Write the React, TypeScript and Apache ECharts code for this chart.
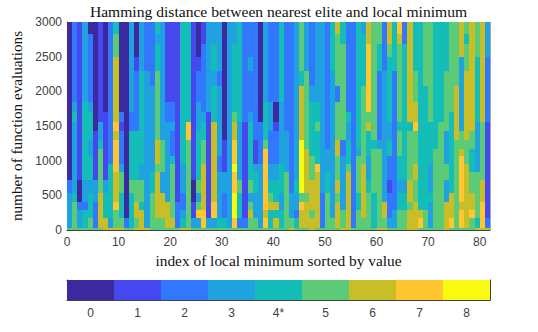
import React, { useEffect, useRef } from "react";
import * as echarts from "echarts";

// Colour level names on the colour bar
const levelLabels = ["0", "1", "2", "3", "4*", "5", "6", "7", "8"];
const levelColors = ["#3a2a9e", "#4547ef", "#3278ff", "#20a2e0", "#14bdb8", "#5ccb78", "#c8bf28", "#ffc630", "#f8fa10"];

// Row boundaries (function evaluations), top to bottom
const rowEdges = [3000, 2821, 2676, 2492, 2289, 2071, 1853, 1698, 1563, 1427, 1297, 1166, 1065, 948, 832, 716, 532, 411, 295, 174, 29, 0];

// Each column read top to bottom, "value:run" in rows
const columnRuns = [
  "0:15 2:1 3:4", "2:6 3:1 4:1 3:8 4:1 5:3", "1:15 0:2 2:1 3:2", "3:6 4:9 3:2 2:1 4:2",
  "0:1 2:5 3:1 4:3 3:2 4:3 3:1 4:3 5:1", "0:9 1:6 3:2 2:3", "1:8 3:2 4:1 5:5 6:4", "0:7 1:8 3:1 4:3 6:1",
  "2:13 4:6 3:1", "4:1 5:2 6:5 7:1 6:1 7:4 6:3 7:1 5:2", "0:7 2:1 1:1 2:4 3:1 5:2 4:3 5:1", "0:19 2:1",
  "3:7 2:2 4:6 5:1 4:4", "0:3 1:1 2:5 4:6 5:2 6:2 5:1", "3:4 4:9 3:2 5:2 4:1 6:2", "2:4 3:16",
  "2:5 3:9 4:2 5:4", "4:1 3:1 4:2 5:6 6:3 5:1 6:5 5:1", "3:10 5:4 3:2 6:3 5:1", "1:6 2:2 3:9 6:3",
  "1:6 2:2 3:1 2:3 4:1 5:6 6:1", "1:17 2:3", "4:13 3:3 2:2 3:1 4:1", "4:8 7:2 5:10",
  "1:15 0:2 1:2 3:1", "0:3 1:1 2:2 3:3 4:6 5:1 3:1 5:1 7:1 3:1", "1:2 2:5 3:1 4:2 5:3 6:5 7:2", "3:7 1:12 3:1",
  "3:2 4:2 3:1 4:3 6:9 7:2 3:1", "3:4 2:1 3:7 2:2 3:5 4:1", "0:10 1:4 3:2 2:3 4:1", "3:20",
  "3:2 4:5 5:1 6:2 7:3 8:1 7:2 8:3 7:1", "4:8 3:7 5:1 4:3 2:1", "2:8 1:11 2:1", "2:3 3:1 2:3 3:1 4:7 5:1 3:1 5:1 6:1 5:1",
  "2:10 1:3 3:1 4:2 3:3 5:1", "0:8 2:5 3:7", "3:6 4:4 5:1 7:7 6:1 7:1", "2:6 3:3 2:4 3:2 4:1 5:1 6:1 4:2",
  "2:6 0:2 1:1 2:4 3:2 4:2 6:1 4:1 6:1", "4:6 3:7 4:3 3:2 4:2", "2:9 3:5 5:6", "2:16 3:3 5:1",
  "3:15 4:1 3:2 2:1 4:1", "5:4 4:1 6:5 8:6 5:1 7:1 6:2", "3:4 5:7 6:5 5:1 6:3", "2:5 3:1 4:6 5:3 6:3 5:1 6:1",
  "3:6 4:2 5:1 4:4 7:1 6:6", "3:16 2:4", "2:11 3:3 4:2 5:4", "4:4 3:15 5:1",
  "6:1 5:4 2:1 5:4 6:2 5:3 6:1 5:1 6:3", "4:2 5:8 2:2 3:6 5:2", "2:7 4:1 3:2 4:3 5:1 6:6", "2:20",
  "4:11 3:1 5:4 4:2 5:2", "3:1 4:4 5:8 6:6 5:1", "6:2 7:5 5:1 6:1 4:3 3:3 4:1 5:4", "5:10 4:1 5:5 4:4",
  "5:2 4:2 2:6 3:1 5:9", "2:4 3:13 6:2 5:1", "6:2 5:1 4:5 3:2 4:2 2:3 1:1 2:3 3:1", "4:4 2:14 3:2",
  "7:1 6:1 5:6 4:1 5:3 4:3 3:1 4:2 5:2", "2:2 4:13 3:1 4:2 5:2", "6:8 4:1 5:6 6:2 5:1 6:2", "4:4 5:2 6:2 7:1 5:4 6:2 5:2 6:3",
  "4:18 6:1 7:1", "5:5 4:13 5:2", "5:8 4:5 3:3 4:1 3:3", "4:11 5:9",
  "4:8 5:12", "4:4 5:5 3:4 5:2 3:2 6:3", "5:7 4:9 6:3 7:1", "5:5 6:5 5:10",
  "6:3 3:6 5:2 6:1 7:5 6:1 7:2", "5:1 4:1 5:2 6:6 5:3 6:7", "6:9 5:2 4:3 5:2 6:2 7:1 5:1", "5:3 4:5 3:6 5:5 4:1",
  "6:8 5:7 6:2 7:3", "3:3 2:5 1:11 2:1",
];

// The thin lowest row, one value per column
const lowestRow = "5555555666655666555555665555555555555555555655565555566555556655556655555655555666";

const xTicks = { min: 0, max: 82, interval: 10 };
const yTicks = { min: 0, max: 3000, interval: 500 };

const cells: number[][] = [];
columnRuns.forEach((runs, col) => {
  let row = 0;
  runs.split(" ").forEach((run) => {
    const [v, n] = run.split(":").map(Number);
    for (let k = 0; k < n; k++) {
      cells.push([col, col + 1, rowEdges[row + 1], rowEdges[row], v]);
      row++;
    }
  });
  cells.push([col, col + 1, rowEdges[21], rowEdges[20], Number(lowestRow[col])]);
});

export default function App() {
  const ref = useRef<HTMLDivElement>(null);
  useEffect(() => {
    const chart = echarts.init(ref.current!, null, { renderer: "svg" });
    const sans = "Liberation Sans";
    const serif = "Liberation Serif";
    const dark = "#404040";
    const faint = "#a8a8a8";
    const left = 67, right = 48;
    chart.setOption({
      animation: false,
      backgroundColor: "#fff",
      title: {
        text: "Hamming distance between nearest elite and local minimum",
        left: 273.5, top: -2, textAlign: "center",
        textStyle: { fontFamily: serif, fontSize: 15.6, fontWeight: "normal", color: "#111" },
      },
      grid: [
        { left, right, top: 22, height: 208 },
        { left, right, top: 280, height: 20 },
      ],
      xAxis: [
        {
          type: "value", gridIndex: 0, position: "bottom", ...xTicks,
          name: "index of local minimum sorted by value", nameLocation: "middle", nameGap: 23,
          nameTextStyle: { fontFamily: serif, fontSize: 15.4, color: "#111" },
          axisLine: { show: true, onZero: false, lineStyle: { color: dark, width: 1 } },
          axisTick: { inside: true, length: 3, lineStyle: { color: dark } },
          axisLabel: { fontFamily: sans, fontSize: 12, color: dark, margin: 6 },
          splitLine: { show: false },
        },
        {
          type: "value", gridIndex: 0, position: "top", ...xTicks,
          axisLine: { show: true, onZero: false, lineStyle: { color: faint } },
          axisTick: { show: false }, axisLabel: { show: false }, splitLine: { show: false },
        },
        {
          type: "category", gridIndex: 1, position: "bottom", data: levelLabels,
          axisLine: { show: true, onZero: false, lineStyle: { color: dark } },
          axisTick: { show: true, inside: true, alignWithLabel: true, length: 4, lineStyle: { color: dark } },
          axisLabel: { fontFamily: sans, fontSize: 12, color: dark, margin: 7, interval: 0 },
        },
        {
          type: "category", gridIndex: 1, position: "top", data: levelLabels,
          axisLine: { show: true, onZero: false, lineStyle: { color: dark } },
          axisTick: { show: false }, axisLabel: { show: false },
        },
      ],
      yAxis: [
        {
          type: "value", gridIndex: 0, position: "left", ...yTicks,
          name: "number of function evaluations", nameLocation: "middle", nameGap: 38,
          nameTextStyle: { fontFamily: serif, fontSize: 15.2, color: "#111" },
          axisLine: { show: true, onZero: false, lineStyle: { color: faint } },
          axisTick: { inside: true, length: 3, lineStyle: { color: dark } },
          axisLabel: { fontFamily: sans, fontSize: 12, color: dark, margin: 5, formatter: (v: number) => String(v) },
          splitLine: { show: false },
        },
        {
          type: "value", gridIndex: 0, position: "right", ...yTicks,
          axisLine: { show: true, onZero: false, lineStyle: { color: faint } },
          axisTick: { show: false }, axisLabel: { show: false }, splitLine: { show: false },
        },
        {
          type: "value", gridIndex: 1, position: "left", min: 0, max: 1,
          axisLine: { show: true, onZero: false, lineStyle: { color: dark } },
          axisTick: { show: false }, axisLabel: { show: false }, splitLine: { show: false },
        },
        {
          type: "value", gridIndex: 1, position: "right", min: 0, max: 1,
          axisLine: { show: true, onZero: false, lineStyle: { color: dark } },
          axisTick: { show: false }, axisLabel: { show: false }, splitLine: { show: false },
        },
      ],
      series: [
        {
          type: "custom", xAxisIndex: 0, yAxisIndex: 0, silent: true, clip: true, z: 1,
          data: cells,
          renderItem: (_p: any, api: any) => {
            const a = api.coord([api.value(0), api.value(3)]);
            const b = api.coord([api.value(1), api.value(2)]);
            const x = Math.round(a[0]), y = Math.round(a[1]);
            return {
              type: "rect",
              shape: { x, y, width: Math.round(b[0]) - x, height: Math.round(b[1]) - y },
              style: { fill: levelColors[api.value(4)] },
            };
          },
        },
        {
          type: "bar", xAxisIndex: 2, yAxisIndex: 2, barWidth: "100%", silent: true, z: 1,
          data: levelColors.map((c) => ({ value: 1, itemStyle: { color: c } })),
        },
      ],
    });
    return () => chart.dispose();
  }, []);
  return <div ref={ref} style={{ position: "fixed", left: 0, top: 0, width: 538, height: 332 }} />;
}
